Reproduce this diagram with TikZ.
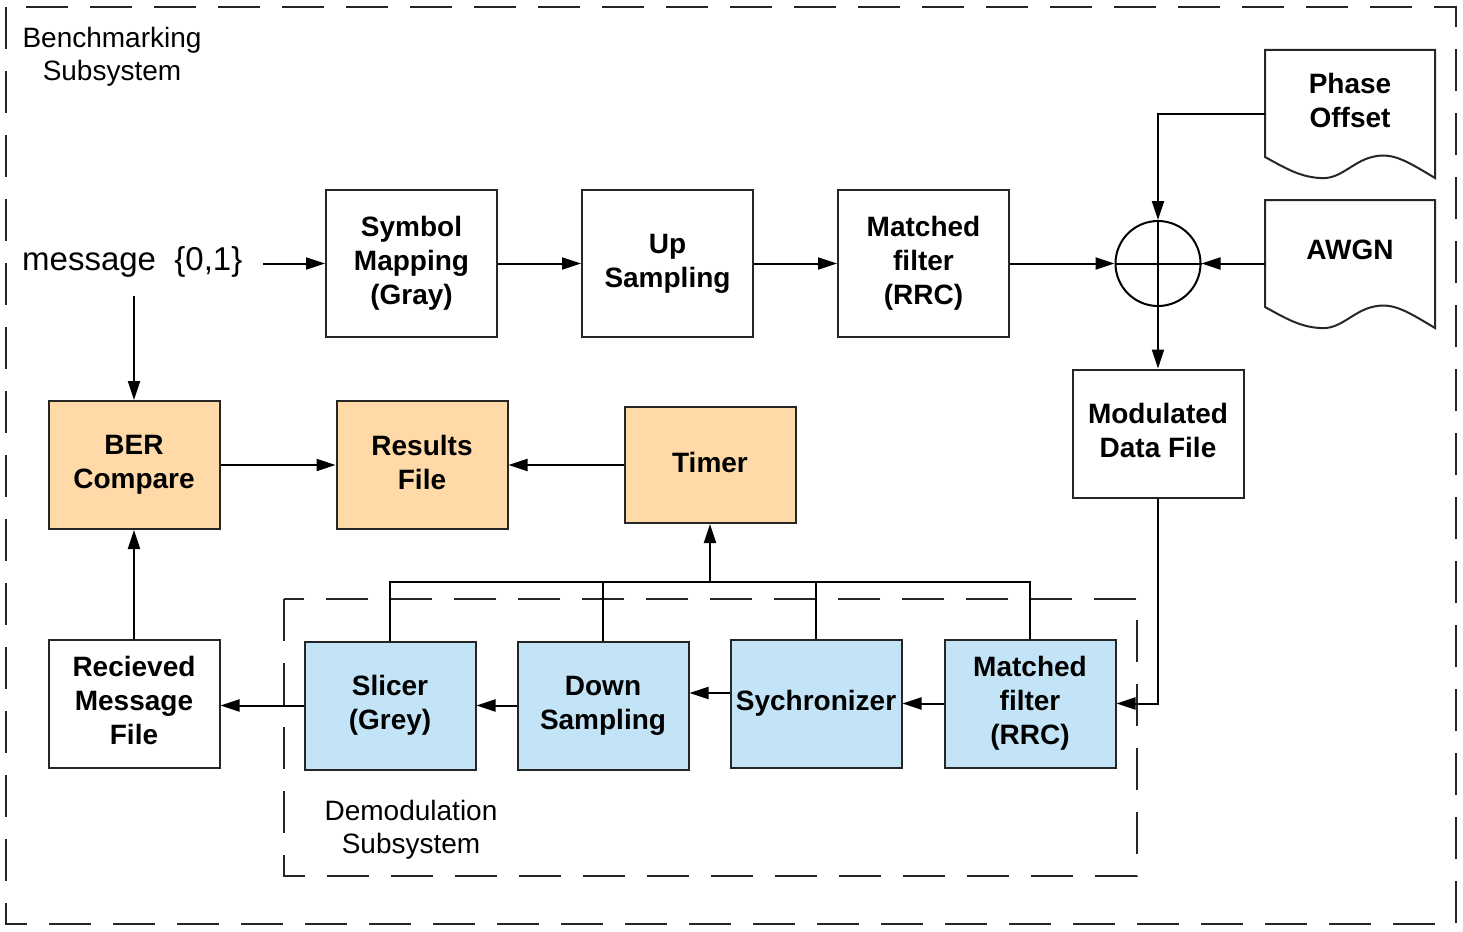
\documentclass[tikz,border=0pt]{standalone}
\usepackage{fontspec}
\setmainfont{Liberation Sans}
\usetikzlibrary{arrows.meta}
\definecolor{orangefill}{HTML}{FFDAA8}
\definecolor{bluefill}{HTML}{C2E4F6}
\tikzset{
  blk/.style={draw=black!85, line width=2pt, minimum width=171pt, minimum height=128pt,
    inner sep=0pt, align=center, text depth=6pt, font=\fontsize{28}{34}\selectfont\bfseries},
  tall/.style={minimum height=147pt},
  orangeblk/.style={blk, fill=orangefill},
  blueblk/.style={blk, fill=bluefill},
  docnode/.style={minimum width=170pt, inner sep=0pt, align=center, font=\fontsize{28}{34}\selectfont\bfseries},
  docline/.style={draw=black!85, line width=2pt, fill=white},
  conn/.style={line width=2pt, draw=black},
  arr/.style={conn, -{Triangle[length=19pt,width=12pt]}},
  frame/.style={line width=2pt, draw=black!85, dash pattern=on 42pt off 22pt},
  plainlabel/.style={align=center, inner sep=0pt, font=\fontsize{28}{33}\selectfont},
}
\begin{document}
\begin{tikzpicture}[x=1pt,y=-1pt]
\useasboundingbox (0,0) rectangle (1463,931);
% frames
\draw[frame] (6,7) rectangle (1456,924);
\draw[frame] (284,599) rectangle (1137,876);
\node[plainlabel] (benchlbl) at (112,56.5) {Benchmarking\\Subsystem};
\node[plainlabel] (demodlbl) at (411,830) {Demodulation\\Subsystem};

% message
\node[anchor=west, inner sep=0pt, font=\fontsize{33}{38}\selectfont] (msg) at (22,262) {message\ \ \{0,1\}};
\coordinate (msgout) at (263,263.5);
\coordinate (msgdown) at (134,296);

% top row
\node[blk,tall] (sym) at (411.5,263.5) {Symbol\\Mapping\\(Gray)};
\node[blk,tall] (up) at (667.5,263.5) {Up\\Sampling};
\node[blk,tall] (mf1) at (923.5,263.5) {Matched\\filter\\(RRC)};
\node[circle, draw=black, line width=2pt, minimum size=85pt, inner sep=0pt] (sum) at (1158,263.5) {};
\draw[conn] (sum.north) -- (sum.south) (sum.west) -- (sum.east);

% documents
\draw[docline] (1265,50) -- (1435,50) -- (1435,178)
  .. controls (1405,160) and (1392,152) .. (1372,157)
  .. controls (1352,162) and (1340,180) .. (1320,178)
  .. controls (1300,177) and (1285,168) .. (1265,157) -- cycle;
\begin{scope}[shift={(0,150)}]
\draw[docline] (1265,50) -- (1435,50) -- (1435,178)
  .. controls (1405,160) and (1392,152) .. (1372,157)
  .. controls (1352,162) and (1340,180) .. (1320,178)
  .. controls (1300,177) and (1285,168) .. (1265,157) -- cycle;
\end{scope}
\node[docnode, minimum height=107pt] (phase) at (1350,100.5) {Phase\\Offset};
\node[docnode, minimum height=106pt] (awgn) at (1350,250) {AWGN};
\coordinate (phaseout) at (1265,114);

\node[blk] (mod) at (1158,433.5) {Modulated\\Data File};

% middle row
\node[orangeblk] (ber) at (134,465) {BER\\Compare};
\node[orangeblk] (res) at (422,465) {Results\\File};
\node[orangeblk, minimum height=116pt] (timer) at (710,465) {Timer};

% bottom row
\node[blk] (recv) at (134,703.5) {Recieved\\Message\\File};
\node[blueblk] (slicer) at (390,705.5) {Slicer\\(Grey)};
\node[blueblk] (down) at (603,705.5) {Down\\Sampling};
\node[blueblk] (sync) at (816,703.5) {Sychronizer};
\node[blueblk] (mf2) at (1030,703.5) {Matched\\filter\\(RRC)};
\coordinate (bus) at (710,582);

% connectors
\draw[arr] (msgout) -- (sym.west);
\draw[arr] (sym.east) -- (up.west);
\draw[arr] (up.east) -- (mf1.west);
\draw[arr] (mf1.east) -- (sum.west);
\draw[arr] (phaseout) -| (sum.north);
\draw[arr] (awgn.west |- sum.east) -- (sum.east);
\draw[arr] (sum.south) -- (mod.north);
\draw[arr] (msgdown) -- (ber.north);
\draw[arr] (ber.east) -- (res.west);
\draw[arr] (timer.west) -- (res.east);
\draw[arr] (recv.north) -- (ber.south);
\draw[arr] (slicer.west) -- (slicer.west -| recv.east);
\draw[arr] (down.west) -- (slicer.east);
\draw[arr] (sync.west |- 0,693) -- (down.east |- 0,693);
\draw[arr] (mf2.west) -- (sync.east);
\draw[arr] (mod.south) |- (mf2.east);
\draw[conn] (slicer.north) |- (bus);
\draw[conn] (down.north) -- (down.north |- bus);
\draw[conn] (sync.north) |- (bus);
\draw[conn] (mf2.north) |- (bus);
\draw[arr] (bus) -- (timer.south);
\end{tikzpicture}
\end{document}
